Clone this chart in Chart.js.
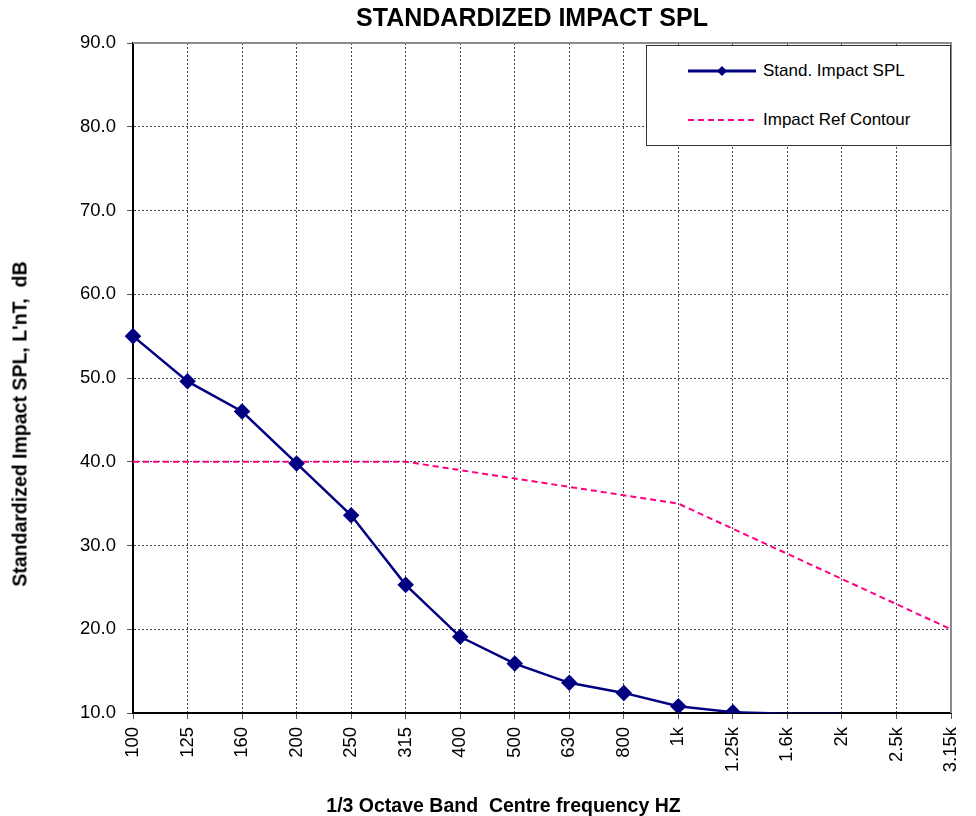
<!DOCTYPE html>
<html>
<head>
<meta charset="utf-8">
<title>Standardized Impact SPL</title>
<script src="https://cdn.jsdelivr.net/npm/chart.js@4/dist/chart.umd.min.js"></script>
<style>
    html, body { margin: 0; padding: 0; background: #fff; }
    body { font-family: "Liberation Sans", Arial, sans-serif; color: #000; }
    #wrap { position: relative; width: 976px; height: 816px; overflow: hidden; }
    #grafico { position: absolute; left: 0; top: 0; }
    .txt { position: absolute; white-space: pre; font-weight: bold; }
    #titulo { left: 0; top: 3px; width: 1064px; text-align: center; font-size: 25px; }
    #tituloX { left: 0; top: 794px; width: 1007px; text-align: center; font-size: 19.5px; }
    #tituloY { left: 20px; top: 424px; font-size: 19.5px; transform: translate(-50%, -50%) rotate(-90deg); }
    #legenda { position: absolute; left: 646px; top: 45px; width: 303px; height: 99px;
               border: 1px solid #333; background: #fff; font-size: 17px; }
    .item { position: absolute; left: 41px; height: 20px; display: flex; align-items: center; }
    .item svg { margin-right: 7px; }
</style>
</head>
<body>
<div id="wrap">
    <canvas id="grafico" width="976" height="816"></canvas>
    <div id="titulo" class="txt">STANDARDIZED IMPACT SPL</div>
    <div id="tituloY" class="txt">Standardized Impact SPL, L'nT,  dB</div>
    <div id="tituloX" class="txt">1/3 Octave Band  Centre frequency HZ</div>
    <div id="legenda">
        <div class="item" style="top: 15px;">
            <svg width="68" height="14"><line x1="0" y1="7" x2="68" y2="7" stroke="#000080" stroke-width="3"/><polygon points="34,2 39,7 34,12 29,7" fill="#000080"/></svg>
            <span>Stand. Impact SPL</span>
        </div>
        <div class="item" style="top: 64px;">
            <svg width="68" height="14"><line x1="0" y1="7" x2="68" y2="7" stroke="#FF0080" stroke-width="2" stroke-dasharray="6,4"/></svg>
            <span>Impact Ref Contour</span>
        </div>
    </div>
</div>
<script>
    // -------------------------------
    // Dados
    // -------------------------------
    const frequencias = ['100','125','160','200','250','315','400','500','630','800','1k','1.25k','1.6k','2k','2.5k','3.15k'];
    // valores abaixo de 10 ficam cortados no eixo (como no original)
    const impactoPadrao = [55.0, 49.6, 46.0, 39.8, 33.6, 25.3, 19.1, 15.9, 13.6, 12.4, 10.8, 10.1, 9.9, 9.9, null, null];
    const contornoRef = [40, 40, 40, 40, 40, 40, 39, 38, 37, 36, 35, 32, 29, 26, 23, 20];
    const yMin = 10, yMax = 90, yPasso = 10;

    const fonte = '"Liberation Sans", Arial, sans-serif';

    // borda cinzenta em cima e à direita da área do gráfico
    const bordaArea = {
        id: 'bordaArea',
        afterDraw(chart) {
            const { ctx, chartArea: a } = chart;
            ctx.save();
            ctx.strokeStyle = '#8c8c8c';
            ctx.lineWidth = 2;
            ctx.beginPath();
            ctx.moveTo(a.left, a.top);
            ctx.lineTo(a.right, a.top);
            ctx.lineTo(a.right, a.bottom);
            ctx.stroke();
            ctx.restore();
        }
    };

    new Chart(document.getElementById('grafico'), {
        type: 'line',
        data: {
            labels: frequencias,
            datasets: [
                {
                    label: 'Impact Ref Contour',
                    data: contornoRef,
                    borderColor: '#FF0080',
                    borderWidth: 2,
                    borderDash: [6, 4],
                    pointRadius: 0,
                    tension: 0,
                    order: 2
                },
                {
                    label: 'Stand. Impact SPL',
                    data: impactoPadrao,
                    borderColor: '#000080',
                    backgroundColor: '#000080',
                    borderWidth: 2.5,
                    pointStyle: 'rectRot',
                    pointRadius: ctx => (ctx.raw !== null && ctx.raw < yMin ? 0 : 6.5),
                    tension: 0,
                    order: 1
                }
            ]
        },
        options: {
            responsive: false,
            devicePixelRatio: 1,
            animation: false,
            layout: { padding: { top: 43, right: 25, bottom: 0, left: 0 } },
            plugins: {
                legend: { display: false },
                title: { display: false },
                tooltip: { enabled: false }
            },
            scales: {
                x: {
                    type: 'category',
                    offset: false,
                    grid: { offset: false, color: '#444', lineWidth: 1, tickLength: 6, tickColor: '#555', tickBorderDash: [] },
                    border: { display: true, color: '#000', width: 2, dash: [2, 2] },
                    ticks: { autoSkip: false, minRotation: 90, maxRotation: 90, padding: 8, color: '#000', font: { family: fonte, size: 18.5 } },
                    afterFit: s => { s.height = 103; s.paddingRight = 0; s.paddingLeft = 0; }
                },
                y: {
                    min: yMin,
                    max: yMax,
                    grid: { color: '#444', lineWidth: 1, tickLength: 6, tickColor: '#555', tickBorderDash: [] },
                    border: { display: true, color: '#000', width: 2, dash: [2, 2] },
                    ticks: { stepSize: yPasso, padding: 11, color: '#000', font: { family: fonte, size: 18.5 }, callback: v => v.toFixed(1) },
                    afterFit: s => { s.width = 133; }
                }
            }
        },
        plugins: [bordaArea]
    });
</script>
</body>
</html>
